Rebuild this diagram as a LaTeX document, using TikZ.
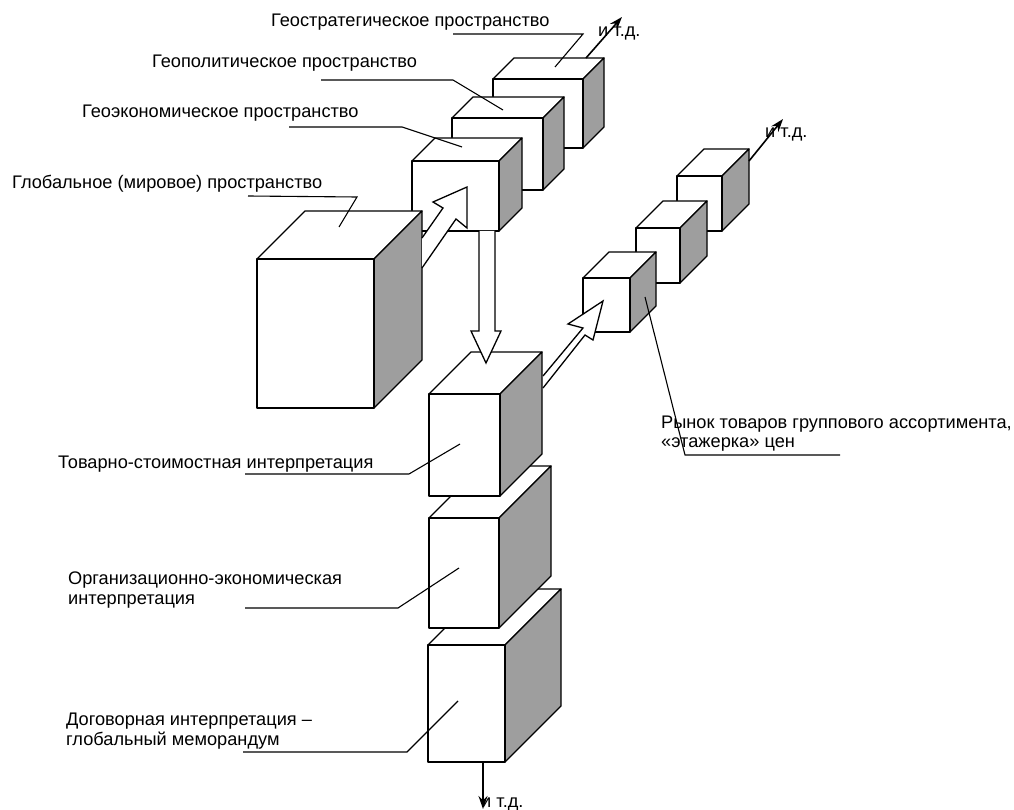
\documentclass[tikz,border=0pt]{standalone}
\usepackage{fontspec}
\setmainfont{Liberation Sans}
\usetikzlibrary{arrows.meta}
\tikzset{
  cubeline/.style={draw=black, line width=1.3pt, line join=round},
  shadeface/.style={fill=black!38},
  leader/.style={line width=1.1pt},
  lbl/.style={anchor=base west, inner sep=0pt, font=\fontsize{18.2}{21}\selectfont},
  etcarrow/.style={line width=1.6pt, -{Stealth[length=13pt,width=9pt]}},
  blockarrow/.style={draw=black, fill=white, line width=1.3pt, line join=miter},
  pics/cube/.style n args={3}{code={
    \draw[cubeline, fill=white] (0,0) -- (#3,-#3) -- (#1+#3,-#3) -- (#1,0) -- cycle;
    \draw[cubeline, shadeface] (#1,0) -- (#1+#3,-#3) -- (#1+#3,#2-#3) -- (#1,#2) -- cycle;
    \draw[cubeline, fill=white] (0,0) rectangle (#1,#2);
  }}
}
\begin{document}
\begin{tikzpicture}[x=1pt,y=-1pt]
\useasboundingbox (0,0) rectangle (1014,810);

% top chain
\pic (gs) at (493,79) {cube={90}{69}{21}};
\pic (gp) at (452,118) {cube={91}{72}{21}};
\pic (ge) at (412,161) {cube={87}{70}{23}};
\pic (gl) at (257,259) {cube={117}{149}{48}};
% diagonal block arrow global -> geoeconomic
\path[blockarrow] (422,238) -- (443,208) -- (433,202) -- (467,187) -- (467,228) -- (456,219) -- (422,268);

% right chain
\pic (r3) at (677,176) {cube={45}{55}{27}};
\pic (r2) at (636,228) {cube={44}{55}{27}};
\pic (r1) at (583,278) {cube={47}{54}{26}};

% bottom chain
\pic (b3) at (428,645) {cube={77}{117}{56}};
\pic (b2) at (429,518) {cube={70}{110}{52}};
\pic (b1) at (429,394) {cube={71}{102}{42}};

% vertical block arrow
\path[blockarrow] (479,231) -- (479,331) -- (471,331) -- (486,363) -- (501,331) -- (495,331) -- (495,231);
% diagonal block arrow b1 -> r1
\path[blockarrow] (543,376) -- (583,328) -- (568,324) -- (603,301) -- (593,340) -- (585,335) -- (543,388);

% labels
\node[lbl] (lgs) at (271,27) {Геостратегическое пространство};
\node[lbl] (lgp) at (152,68) {Геополитическое пространство};
\node[lbl] (lge) at (82,118) {Геоэкономическое пространство};
\node[lbl] (lgl) at (12,189) {Глобальное (мировое) пространство};
\node[lbl] (lb1) at (58,468) {Товарно-стоимостная интерпретация};
\node[lbl] (lb2a) at (68,584) {Организационно-экономическая};
\node[lbl] (lb2b) at (68,604) {интерпретация};
\node[lbl] (lb3a) at (66,725) {Договорная интерпретация –};
\node[lbl] (lb3b) at (66,745) {глобальный меморандум};
\node[lbl] (lr1a) at (661,428) {Рынок товаров группового ассортимента,};
\node[lbl] (lr1b) at (661,447) {«этажерка» цен};
\node[lbl] (etc1) at (598,37) {и т.д.};
\node[lbl] (etc2) at (765,138) {и т.д.};
\node[lbl] (etc3) at (481,807) {и т.д.};

% leader lines
\draw[leader] (453,34) -- (583,34) -- (555,67);
\draw[leader] (321,80) -- (453,80) -- (503,110);
\draw[leader] (289,127) -- (402,127) -- (462,147);
\draw[leader] (248,196) -- (357,197) -- (339,227);
\draw[leader] (245,474) -- (409,474) -- (460,444);
\draw[leader] (245,608) -- (398,608) -- (459,568);
\draw[leader] (243,752) -- (407,752) -- (458,701);
\draw[leader] (645,297) -- (685,455) -- (840,455);

% continuation arrows
\coordinate (s1) at (586,58);  \coordinate (t1) at (622,17);
\coordinate (s2) at (749,161); \coordinate (t2) at (783,119);
\coordinate (s3) at (483,762); \coordinate (t3) at (483,809);
\draw[etcarrow] (s1) -- (t1);
\draw[etcarrow] (s2) -- (t2);
\draw[etcarrow] (s3) -- (t3);
\end{tikzpicture}
\end{document}
